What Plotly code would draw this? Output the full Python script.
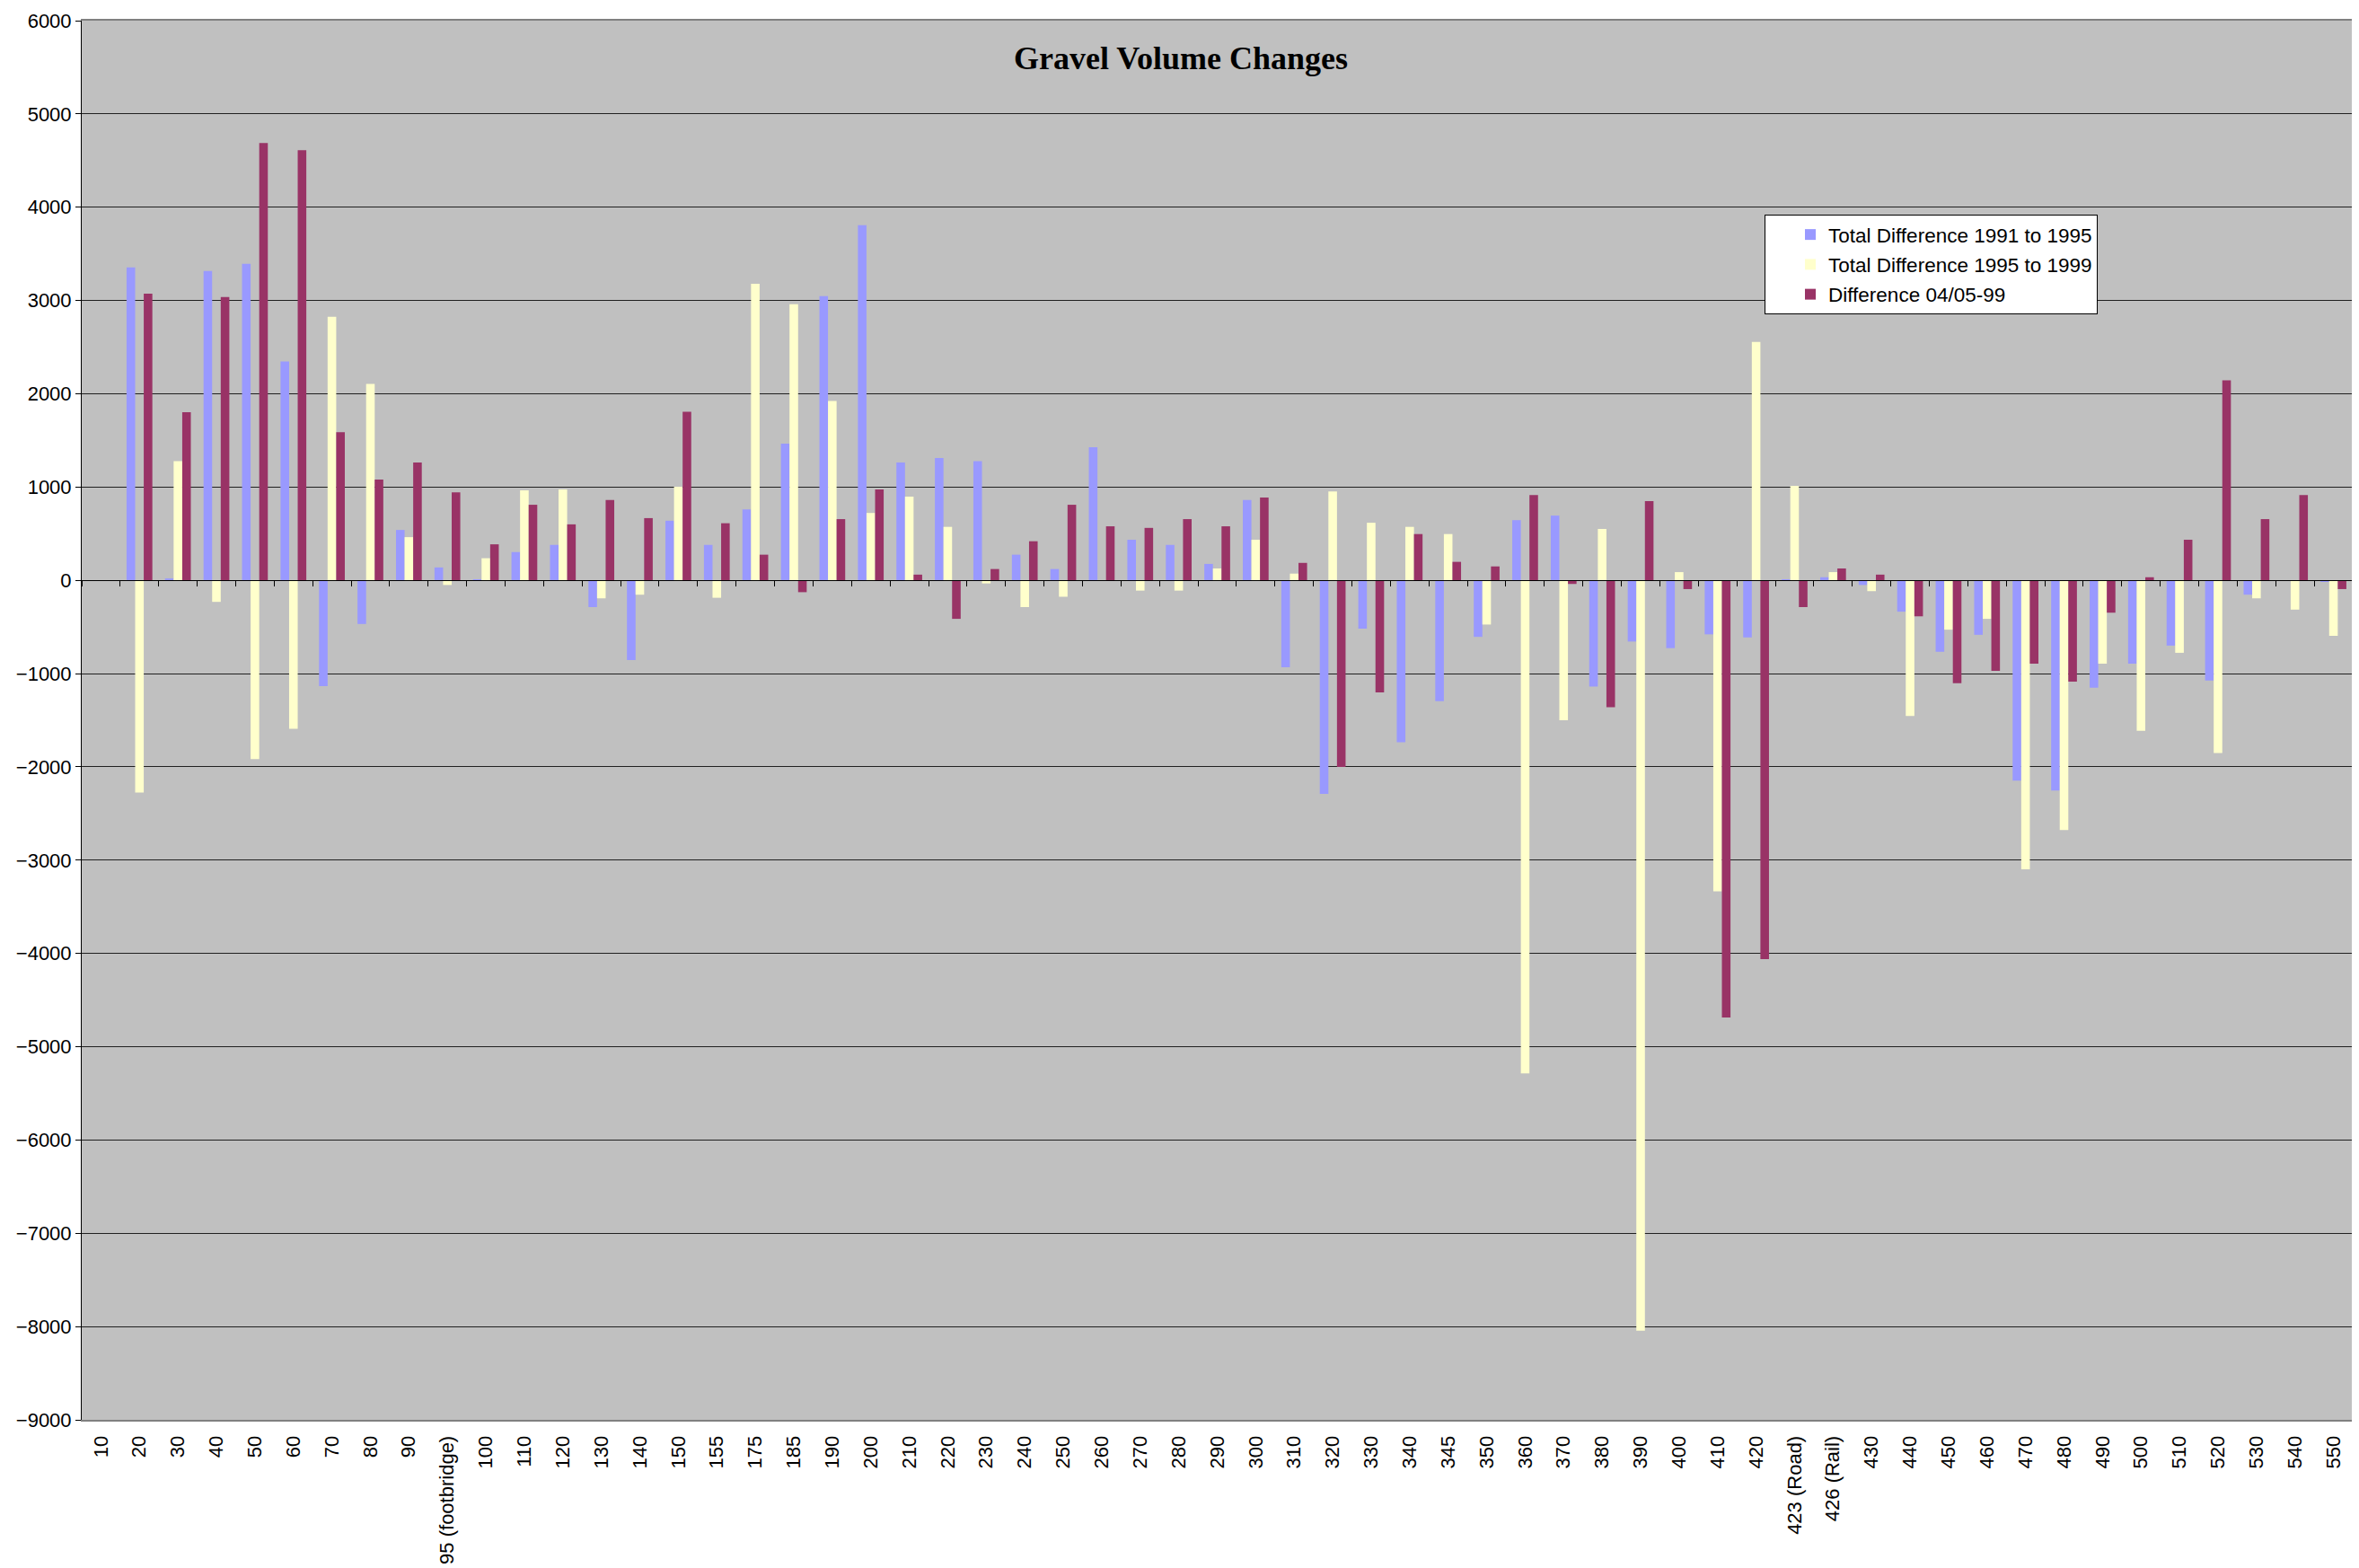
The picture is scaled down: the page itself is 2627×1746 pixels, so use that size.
import plotly.graph_objects as go

categories = ["10", "20", "30", "40", "50", "60", "70", "80", "90", "95 (footbridge)",
              "100", "110", "120", "130", "140", "150", "155", "175", "185", "190",
              "200", "210", "220", "230", "240", "250", "260", "270", "280", "290",
              "300", "310", "320", "330", "340", "345", "350", "360", "370", "380",
              "390", "400", "410", "420", "423 (Road)", "426 (Rail)", "430", "440", "450", "460",
              "470", "480", "490", "500", "510", "520", "530", "540", "550"]

diff_91_95 = [0, 3355, 20, 3317, 3394, 2347, -1135, -468, 540, 138,
              10, 303, 380, -287, -854, 639, 380, 760, 1466, 3047,
              3807, 1262, 1311, 1278, 275, 121, 1427, 435, 380, 176,
              860, -931, -2290, -518, -1736, -1295, -606, 645, 694, -1140,
              -656, -727, -579, -612, 10, 33, -50, -336, -766, -584,
              -2148, -2253, -1152, -893, -700, -1074, -154, 0, -10]

diff_95_99 = [0, -2275, 1278, -231, -1917, -1592, 2826, 2105, 463, -50,
              237, 964, 975, -193, -154, 1003, -187, 3179, 2959, 1923,
              722, 898, 573, -33, -287, -176, 0, -110, -110, 127,
              435, 72, 953, 617, 573, 496, -474, -5285, -1499, 551,
              -8045, 88, -3333, 2556, 1014, 88, -116, -1455, -529, -413,
              -3099, -2676, -893, -1614, -777, -1851, -193, -314, -595]

diff_04_05_99 = [0, 3074, 1802, 3036, 4689, 4612, 1587, 1080, 1262, 942,
                 386, 810, 600, 860, 667, 1807, 612, 275, -127, 656,
                 975, 61, -413, 121, 419, 810, 579, 562, 656, 579,
                 887, 187, -2000, -1201, 496, 198, 149, 915, -39, -1361,
                 848, -94, -4687, -4060, -287, 127, 61, -386, -1102, -970,
                 -893, -1085, -347, 33, 435, 2143, 656, 915, -94]

series_names = ["Total Difference 1991 to 1995", "Total Difference 1995 to 1999", "Difference 04/05-99"]
series_colors = ["#9999FF", "#FFFFCC", "#993366"]

y_ticks = list(range(-9000, 6001, 1000))

fig = go.Figure()
for i, (name, vals, col) in enumerate(zip(series_names, [diff_91_95, diff_95_99, diff_04_05_99], series_colors)):
    fig.add_trace(go.Bar(x=categories, y=vals, name=name, legendgroup=f"g{i}",
                         marker=dict(color=col, line=dict(width=0))))

# invisible helper trace for the category tick marks along the zero line
fig.add_trace(go.Scatter(x=categories, y=[None] * len(categories), xaxis="x2", yaxis="y",
                         mode="markers", showlegend=False, hoverinfo="skip"))

axis_font = dict(family="Liberation Sans, Arial", size=22, color="black")

fig.update_layout(
    width=2627, height=1746,
    paper_bgcolor="white",
    plot_bgcolor="#C0C0C0",
    barmode="group",
    bargap=0.33,
    bargroupgap=0,
    margin=dict(l=83, r=15, t=15, b=173, autoexpand=False),
    title=dict(text="<b>Gravel Volume Changes</b>", x=1307 / 2627, xanchor="center",
               y=1 - 56 / 1746, yanchor="middle",
               font=dict(family="Liberation Serif, Times New Roman", size=36, color="black")),
    xaxis=dict(type="category", categoryorder="array", categoryarray=categories,
               range=[-0.5, len(categories) - 0.5],
               tickangle=-90, tickfont=axis_font, ticks="outside", ticklen=7,
               tickcolor="rgba(0,0,0,0)", showgrid=False,
               showline=True, linecolor="#808080", linewidth=2, mirror=True,
               zeroline=False, ticklabeloverflow="allow", automargin=False),
    xaxis2=dict(type="category", categoryorder="array", categoryarray=categories,
                range=[-0.5, len(categories) - 0.5], overlaying="x", anchor="free",
                position=9000 / 15000, showticklabels=False, ticks="outside",
                tickson="boundaries", ticklen=6, tickcolor="black", tickwidth=1,
                showline=True, linecolor="black", linewidth=1, showgrid=False, zeroline=False,
                automargin=False),
    yaxis=dict(range=[-9000, 6000], tickvals=y_ticks, tickfont=axis_font,
               ticks="outside", ticklen=6, tickcolor="black",
               showgrid=True, gridcolor="#202020", gridwidth=1,
               showline=True, linecolor="black", linewidth=1,
               zeroline=False, ticklabeloverflow="allow", automargin=False),
    legend=dict(x=(1965 - 91) / 2529, y=(1581 - 239) / 1558, xanchor="left", yanchor="top",
                bgcolor="white", bordercolor="black", borderwidth=1,
                font=dict(family="Liberation Sans, Arial", size=22.5, color="black"),
                tracegroupgap=1, itemwidth=30, indentation=30, entrywidth=330),
    showlegend=True,
)

fig.write_html("out.html")
